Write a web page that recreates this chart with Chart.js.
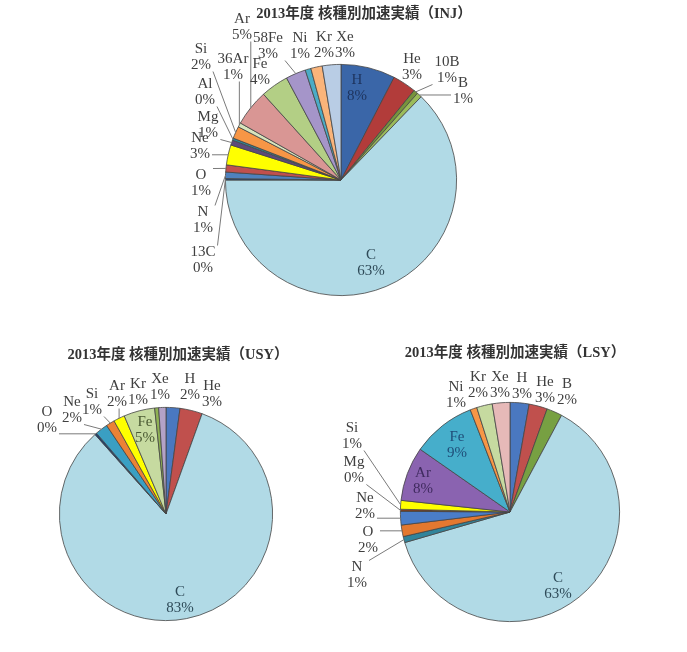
<!DOCTYPE html>
<html>
<head>
<meta charset="utf-8">
<script src="https://cdn.jsdelivr.net/npm/chart.js@4"></script>
<style>
  html, body { margin: 0; padding: 0; background: #fff; }
  #wrap { position: relative; width: 687px; height: 652px; }
  #wrap canvas { position: absolute; left: 0; top: 0; }
</style>
</head>
<body>
<div id="wrap">
  <canvas id="inj" width="687" height="652"></canvas>
  <canvas id="usy" width="687" height="652"></canvas>
  <canvas id="lsy" width="687" height="652"></canvas>
</div>
<script>
'use strict';

// INJ
const injLabels = ['H', 'He', '10B', 'B', 'C', '13C', 'N', 'O', 'Ne', 'Mg', 'Al', 'Si', '36Ar', 'Ar', 'Fe', '58Fe', 'Ni', 'Kr', 'Xe'];
const injValues = [7.6, 3.3, 0.6, 0.7, 62.8, 0.2, 0.9, 1.0, 2.8, 0.7, 0.3, 1.7, 0.6, 5.1, 3.9, 2.8, 0.8, 1.6, 2.6];
const injColors = ['#3A66A8', '#B23C3A', '#77933C', '#9BBB59', '#B1DAE6', '#1F497D', '#4F81BD', '#C0504D', '#FFFF00', '#5F497A', '#31859C', '#F79646', '#D7E4BD', '#D99694', '#B3CF85', '#A595C9', '#4BACC6', '#FAB47A', '#B9CDE5'];

// USY
const usyLabels = ['H', 'He', 'C', 'O', 'Ne', 'Si', 'Ar', 'Fe', 'Kr', 'Xe'];
const usyValues = [2.1, 3.4, 82.9, 0.3, 1.9, 1.3, 1.7, 4.7, 0.6, 1.1];
const usyColors = ['#4A78C0', '#C0504D', '#B1DAE6', '#1F3F6E', '#3A9FC3', '#EB8236', '#FFFF00', '#C6DAA0', '#8FB153', '#B3A2C7'];

// LSY
const lsyLabels = ['H', 'He', 'B', 'C', 'N', 'O', 'Ne', 'Mg', 'Si', 'Ar', 'Fe', 'Ni', 'Kr', 'Xe'];
const lsyValues = [2.8, 2.7, 2.3, 62.7, 0.9, 1.7, 2.0, 0.3, 1.3, 8.0, 9.4, 1.0, 2.3, 2.6];
const lsyColors = ['#4A78C0', '#C0504D', '#77A042', '#B1DAE6', '#31849B', '#E4782F', '#4A7DC8', '#7F3F1F', '#FFFF00', '#8A63B0', '#46AECB', '#F79646', '#C6DAA0', '#E6B9B8'];

// label spots, offset from the pie centre; 'in' = inside the slice
const injPlaces = {
  'H': [16, -92, 'in', '#1E345E'], 'He': [71, -113], '10B': [106, -110], 'B': [122, -89],
  'C': [30, 83, 'in', '#2E4A58'], '13C': [-138, 80], 'N': [-138, 40], 'O': [-140, 3],
  'Ne': [-141, -34], 'Mg': [-133, -55], 'Al': [-136, -88], 'Si': [-140, -123],
  '36Ar': [-108, -113], 'Ar': [-99, -153], 'Fe': [-81, -108], '58Fe': [-73, -134],
  'Ni': [-41, -134], 'Kr': [-17, -135], 'Xe': [4, -135],
};
const usyPlaces = {
  'O': [-119, -94], 'Ne': [-94, -104], 'Si': [-74, -112], 'Ar': [-49, -120],
  'Kr': [-28, -122], 'Xe': [-6, -127], 'H': [24, -127], 'He': [46, -120],
  'Fe': [-21, -84, 'in', '#4B5A33'], 'C': [14, 86, 'in', '#2E4A58'],
};
const lsyPlaces = {
  'Ni': [-54, -117], 'Kr': [-32, -127], 'Xe': [-10, -127], 'H': [12, -126],
  'He': [35, -122], 'B': [57, -120], 'Si': [-158, -76], 'Mg': [-156, -42],
  'Ne': [-145, -6], 'O': [-142, 28], 'N': [-153, 63],
  'Fe': [-53, -67, 'in', '#1F4E79'], 'Ar': [-87, -31, 'in', '#3F2A5E'], 'C': [48, 74, 'in', '#2E4A58'],
};

const W = 687, H = 652;
const LABEL_FONT = '15px "Liberation Serif", "DejaVu Serif", serif';
const TITLE_FONT = 'bold 14.5px "Liberation Serif", "Noto Sans CJK JP", serif';
const LINE_H = 16.5;

const sliceLabels = {
  id: 'sliceLabels',
  afterDatasetsDraw(chart, args, opts) {
    const ctx = chart.ctx;
    const meta = chart.getDatasetMeta(0);
    const data = chart.data.datasets[0].data;
    const total = data.reduce((a, b) => a + b, 0);
    ctx.save();
    ctx.font = LABEL_FONT;
    ctx.textAlign = 'center';
    ctx.textBaseline = 'middle';
    meta.data.forEach((arc, i) => {
      const place = opts.places[chart.data.labels[i]];
      if(!place) return;
      const p = arc.getProps(['x', 'y', 'startAngle', 'endAngle', 'outerRadius'], true);
      const mid = (p.startAngle + p.endAngle) / 2;
      const ax = p.x + Math.cos(mid) * p.outerRadius;
      const ay = p.y + Math.sin(mid) * p.outerRadius;
      const lx = p.x + place[0], ly = p.y + place[1];
      const lines = [chart.data.labels[i], Math.round(data[i] / total * 100) + '%'];
      const w = Math.max(...lines.map(t => ctx.measureText(t).width)) + 4;
      const h = LINE_H * 2;
      if(place[2] !== 'in') {
        // leader line from the nearest side of the label box
        const bx = Math.min(Math.max(ax, lx - w / 2), lx + w / 2);
        const by = Math.min(Math.max(ay, ly - h / 2 + 2), ly + h / 2 - 2);
        if(Math.hypot(ax - bx, ay - by) > 9) {
          ctx.strokeStyle = '#7a7a7a';
          ctx.lineWidth = 1;
          ctx.beginPath();
          ctx.moveTo(bx, by);
          ctx.lineTo(ax, ay);
          ctx.stroke();
        }
      }
      ctx.fillStyle = place[3] || '#404040';
      ctx.fillText(lines[0], lx, ly - LINE_H / 2);
      ctx.fillText(lines[1], lx, ly + LINE_H / 2);
    });
    ctx.font = TITLE_FONT;
    ctx.fillStyle = '#333';
    ctx.fillText(opts.title, opts.titleX, opts.titleY);
    ctx.restore();
  },
};

function makePie(id, labels, values, colors, places, cx, cy, r, title, titleX, titleY) {
  return new Chart(document.getElementById(id), {
    type: 'pie',
    data: {
      labels,
      datasets: [{
        data: values,
        backgroundColor: colors,
        borderColor: '#454545',
        borderWidth: 0.8,
      }],
    },
    options: {
      responsive: false,
      animation: false,
      events: [],
      layout: {
        padding: { left: cx - r, top: cy - r, right: W - cx - r, bottom: H - cy - r },
      },
      plugins: {
        legend: { display: false },
        tooltip: { enabled: false },
        sliceLabels: { places, title, titleX, titleY },
      },
    },
    plugins: [sliceLabels],
  });
}

makePie('inj', injLabels, injValues, injColors, injPlaces, 341, 180, 116, '2013年度 核種別加速実績（INJ）', 364, 14);
makePie('usy', usyLabels, usyValues, usyColors, usyPlaces, 166, 514, 107, '2013年度 核種別加速実績（USY）', 178, 355);
makePie('lsy', lsyLabels, lsyValues, lsyColors, lsyPlaces, 510, 512, 110, '2013年度 核種別加速実績（LSY）', 515, 353);
</script>
</body>
</html>
